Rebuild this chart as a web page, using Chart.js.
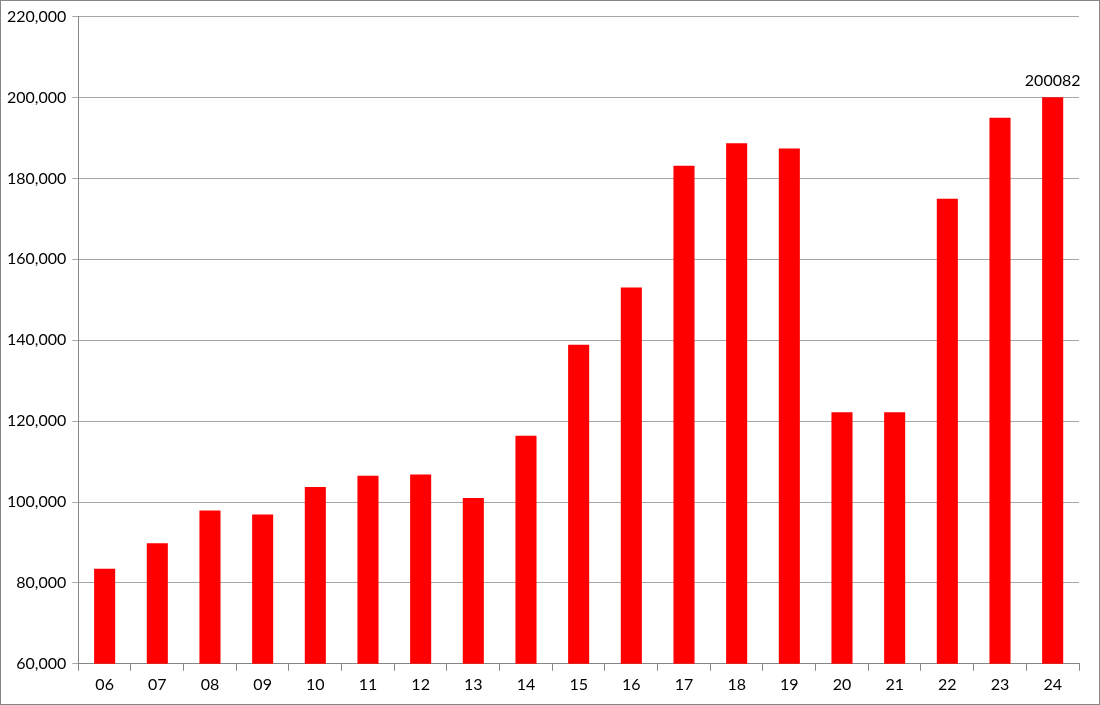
<!DOCTYPE html>
<html>
<head>
<meta charset="utf-8">
<script src="https://cdn.jsdelivr.net/npm/chart.js@4"></script>
<style>
  html, body { margin: 0; padding: 0; background: #fff; }
  #wrap { width: 1098px; height: 703px; border: 1px solid #868686; }
</style>
</head>
<body>
<div id="wrap"><canvas id="barChart" width="1098" height="703"></canvas></div>
<script>
const years = ['06','07','08','09','10','11','12','13','14','15','16','17','18','19','20','21','22','23','24'];
const counts = [83500, 89800, 97900, 96900, 103700, 106500, 106800, 101000, 116400, 138900,
                153000, 183100, 188700, 187400, 122200, 122200, 175000, 195000, 200082];

// only the last bar carries a value label
const lastLabel = {
    id: 'lastLabel',
    afterDatasetsDraw(chart) {
        const ctx = chart.ctx;
        const bar = chart.getDatasetMeta(0).data[counts.length - 1];
        ctx.save();
        ctx.font = '16px Lato, "Open Sans", sans-serif';
        ctx.fillStyle = '#000';
        ctx.textAlign = 'center';
        ctx.textBaseline = 'bottom';
        ctx.fillText(String(counts[counts.length - 1]), bar.x, bar.y - 8);
        ctx.restore();
    }
};

new Chart(document.getElementById('barChart').getContext('2d'), {
    type: 'bar',
    data: {
        labels: years,
        datasets: [{ data: counts, backgroundColor: '#ff0000', barPercentage: 0.4, categoryPercentage: 1 }]
    },
    options: {
        responsive: false,
        animation: false,
        layout: { padding: { top: 14, right: 20, left: 0, bottom: 6 } },
        plugins: { legend: { display: false }, tooltip: { enabled: false } },
        scales: {
            x: {
                grid: { display: true, drawOnChartArea: false, offset: true, color: '#868686', tickLength: 7 },
                border: { color: '#868686' },
                ticks: { color: '#000', font: { family: 'Lato, "Open Sans", sans-serif', size: 16 }, padding: 4 }
            },
            y: {
                min: 60000, max: 220000,
                grid: { color: '#a6a6a6', tickLength: 6 },
                border: { color: '#868686' },
                ticks: { stepSize: 20000, color: '#000', font: { family: 'Lato, "Open Sans", sans-serif', size: 16 }, padding: 6 }
            }
        }
    },
    plugins: [lastLabel]
});
</script>
</body>
</html>
